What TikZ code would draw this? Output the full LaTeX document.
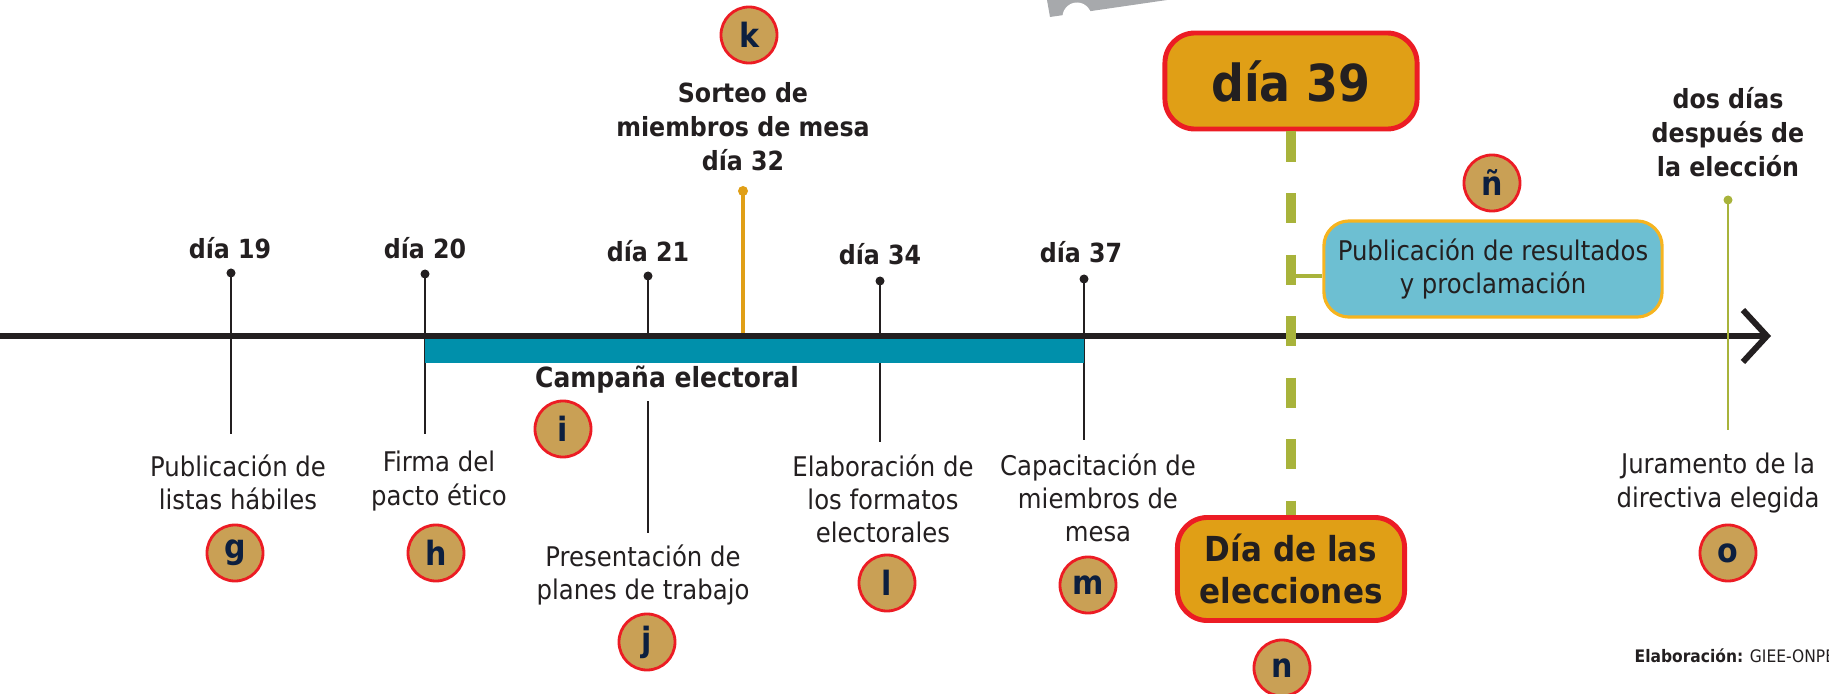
\documentclass[tikz,border=0pt]{standalone}
\usepackage{fontspec}
\setmainfont{DejaVu Sans}[FakeStretch=0.9]
\usetikzlibrary{arrows.meta, positioning, calc}
\usepackage{xcolor}

\definecolor{tinta}{HTML}{231F20}
\definecolor{turquesa}{HTML}{0090AB}
\definecolor{naranja}{HTML}{E09F16}
\definecolor{rojo}{HTML}{EC1C24}
\definecolor{oliva}{HTML}{A8B33B}
\definecolor{celeste}{HTML}{6DBFD2}
\definecolor{ambar}{HTML}{F6B41F}
\definecolor{ocre}{HTML}{C9A055}
\definecolor{marino}{HTML}{0C1F3F}
\definecolor{gris}{HTML}{A7A9AC}

\tikzset{
  letra/.style={circle, draw=rojo, line width=0.8pt, fill=ocre, minimum size=0.56cm,
    inner sep=0pt, text=marino, font=\fontsize{9.5}{10}\selectfont\bfseries},
  rotulo/.style={align=center, text=tinta, font=\fontsize{7.5}{9.7}\selectfont\bfseries},
  texto/.style={align=center, text=tinta, font=\fontsize{7.7}{9.4}\selectfont},
  varilla/.style={draw=tinta, line width=0.6pt},
  punta/.style={circle, fill=tinta, minimum size=0.09cm, inner sep=0pt},
  cajaroja/.style={draw=rojo, line width=1.4pt, fill=naranja, rounded corners=0.3cm,
    align=center, text=tinta, inner sep=0pt},
}

\begin{document}
\begin{tikzpicture}[x=0.01cm, y=-0.01cm]
  \useasboundingbox (0,0) rectangle (1829,694);

  % resto gris arriba
  \fill[gris] (1047,0) -- (1050,17) -- (1167,0) -- cycle;
  \fill[white] (1077,17) circle (14.5);

  % hitos negros
  \node[punta] (d19) at (231,273) {};
  \coordinate (b19) at (231,434);
  \draw[varilla] (d19.center) -- (b19);
  \node[rotulo] (t19) at (230,248) {día 19};

  \node[punta] (d20) at (425,274) {};
  \coordinate (b20) at (425,434);
  \draw[varilla] (d20.center) -- (b20);
  \node[rotulo] (t20) at (425,248) {día 20};

  \node[punta] (d21) at (648,276) {};
  \coordinate (b21) at (648,336);
  \draw[varilla] (d21.center) -- (b21);
  \node[rotulo] (t21) at (648,251) {día 21};

  \node[punta] (d34) at (880,281) {};
  \coordinate (b34) at (880,442);
  \draw[varilla] (d34.center) -- (b34);
  \node[rotulo] (t34) at (880,254) {día 34};

  \node[punta] (d37) at (1084,279) {};
  \coordinate (b37) at (1084,440);
  \draw[varilla] (d37.center) -- (b37);
  \node[rotulo] (t37) at (1081,252) {día 37};

  % sorteo
  \node[letra] (k) at (749,35) {k};
  \node[rotulo] (sorteo) at (743,127) {Sorteo de\\miembros de mesa\\día 32};
  \node[circle, fill=naranja, minimum size=0.1cm, inner sep=0pt] (d32) at (743,191) {};
  \coordinate (b32) at (743,336);
  \draw[naranja, line width=1.4pt] (d32.center) -- (b32);

  % barra de campana y eje
  \fill[turquesa] (425,336) rectangle (1084,363);
  \coordinate (ejeA) at (0,336);
  \coordinate (ejeB) at (1771,336);
  \draw[tinta, line width=1.7pt, -{Straight Barb[length=0.24cm, width=0.52cm]}] (ejeA) -- (ejeB);

  % textos de abajo
  \node[texto] (listas) at (238,482) {Publicación de\\listas hábiles};
  \node[letra] (g) at (235,553) {g};
  \node[texto] (pacto) at (439,481) {Firma del\\pacto ético};
  \node[letra] (h) at (436,553) {h};
  \node[rotulo, font=\fontsize{7.9}{9.7}\selectfont\bfseries] (campana) at (667,380) {Campaña electoral};
  \node[letra] (i) at (563,429) {i};
  \coordinate (pA) at (648,401);
  \coordinate (pB) at (648,533);
  \draw[varilla] (pA) -- (pB);
  \node[texto] (planes) at (643,575) {Presentación de\\planes de trabajo};
  \node[letra] (j) at (647,642) {j};
  \node[texto] (formatos) at (883,499) {Elaboración de\\los formatos\\electorales};
  \node[letra] (l) at (887,583) {l};
  \node[texto] (capacita) at (1098,498) {Capacitación de\\miembros de\\mesa};
  \node[letra] (m) at (1088,585) {m};

  % dia de la eleccion
  \node[cajaroja, minimum width=2.52cm, minimum height=0.96cm,
    font=\fontsize{14.5}{16}\selectfont\bfseries] (d39) at (1291,81) {día 39};
  \node[cajaroja, minimum width=2.27cm, minimum height=1.03cm,
    font=\fontsize{9.8}{12}\selectfont\bfseries] (eleccion) at (1291,569) {Día de las\\elecciones};
  \draw[oliva, line width=2.8pt, dash pattern=on 0.3cm off 0.315cm] (d39.south) -- (eleccion.north);
  \node[letra] (n) at (1282,668) {n};

  % resultados
  \node[draw=ambar, line width=0.9pt, fill=celeste, rounded corners=0.25cm,
    minimum width=3.38cm, minimum height=0.96cm, inner sep=0pt, texto] (result) at (1493,269)
    {Publicación de resultados\\y proclamación};
  \coordinate (rA) at (1289,276);
  \draw[oliva, line width=0.9pt] (rA) -- (rA -| result.west);
  \node[letra] (nn) at (1492,183) {ñ};

  % juramento
  \node[rotulo] (despues) at (1728,132) {dos días\\después de\\la elección};
  \node[circle, fill=oliva, minimum size=0.09cm, inner sep=0pt] (dj) at (1728,200) {};
  \coordinate (bj) at (1728,430);
  \draw[oliva, line width=0.8pt] (dj.center) -- (bj);
  \node[texto] (jura) at (1718,483) {Juramento de la\\directiva elegida};
  \node[letra] (o) at (1728,553) {o};

  % fuente
  \node[anchor=west, inner sep=0pt, text=tinta, font=\fontsize{4.9}{6}\selectfont] (fuente) at (1634,656)
    {\textbf{Elaboración:} GIEE-ONPE};
\end{tikzpicture}
\end{document}
